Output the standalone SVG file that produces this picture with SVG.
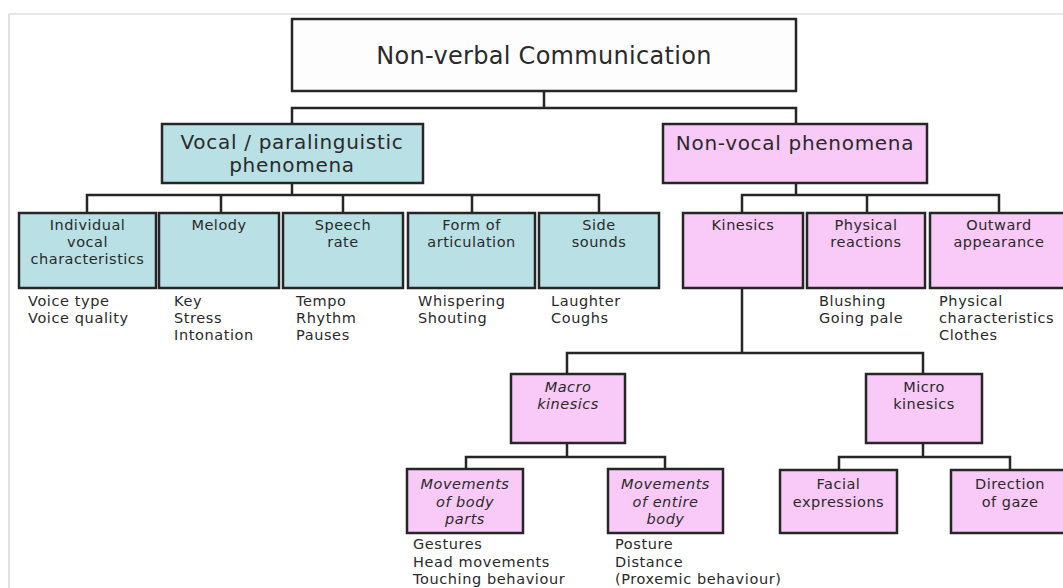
<svg xmlns="http://www.w3.org/2000/svg" width="1063" height="588" viewBox="0 0 1063 588">
<style>
.frame{fill:none;stroke:#cfcfcf;stroke-width:1.2}
.box{stroke:#262626;stroke-width:2.5}
.top{fill:#fdfdfd}
.blue{fill:#b9e0e4}
.pink{fill:#f9c9f7}
.conn{fill:none;stroke:#262626;stroke-width:2.5}
text{font-family:"DejaVu Sans","Liberation Sans",sans-serif;fill:#2a2a2a}
.t{font-size:14.5px;letter-spacing:0.5px;text-anchor:middle}
.l{font-size:14.5px;letter-spacing:0.6px}
.it{font-style:italic}
.h1{font-size:24px;letter-spacing:0.3px;text-anchor:middle}
.h2{font-size:20px;letter-spacing:0.7px;text-anchor:middle}
</style>
<rect width="1063" height="588" fill="#ffffff"/>
<path class="frame" d="M9,588 V14 H1063"/>
<g id="connectors">
<path class="conn" d="M544,91 V108 M292,124 V108 H796 V124"/>
<path class="conn" d="M292,183 V195 M87,213 V195 H599 V213 M221,195 V213 M343,195 V213 M472,195 V213"/>
<path class="conn" d="M796,183 V195 M742,213 V195 H999 V213 M867,195 V213"/>
<path class="conn" d="M742,288 V353 M567,374 V353 H923 V374"/>
<path class="conn" d="M567,443 V457 M466,469 V457 H665 V469"/>
<path class="conn" d="M923,443 V457 M839,470 V457 H1010 V470"/>
</g>
<g id="root"><rect class="box top" x="292" y="19" width="504" height="72"/><text class="h1" x="544" y="64">Non-verbal Communication</text></g>
<g id="vocal"><rect class="box blue" x="162" y="124" width="261" height="59"/><text class="h2" x="292" y="149">Vocal / paralinguistic</text><text class="h2" x="292" y="172">phenomena</text></g>
<g id="nonvocal"><rect class="box pink" x="663" y="124" width="264" height="59"/><text class="h2" x="795" y="150">Non-vocal phenomena</text></g>
<g id="individual"><rect class="box blue" x="19" y="213" width="137" height="75"/><text class="t" x="87.5" y="230">Individual</text><text class="t" x="87.5" y="247">vocal</text><text class="t" x="87.5" y="264">characteristics</text></g>
<g id="melody"><rect class="box blue" x="159" y="213" width="120" height="75"/><text class="t" x="219" y="230">Melody</text></g>
<g id="speech"><rect class="box blue" x="283" y="213" width="120" height="75"/><text class="t" x="343" y="230">Speech</text><text class="t" x="343" y="247">rate</text></g>
<g id="form"><rect class="box blue" x="408" y="213" width="127" height="75"/><text class="t" x="471.5" y="230">Form of</text><text class="t" x="471.5" y="247">articulation</text></g>
<g id="side"><rect class="box blue" x="539" y="213" width="120" height="75"/><text class="t" x="599" y="230">Side</text><text class="t" x="599" y="247">sounds</text></g>
<g id="kinesics"><rect class="box pink" x="683" y="213" width="120" height="75"/><text class="t" x="743" y="230">Kinesics</text></g>
<g id="physical"><rect class="box pink" x="807" y="213" width="118" height="75"/><text class="t" x="866" y="230">Physical</text><text class="t" x="866" y="247">reactions</text></g>
<g id="outward"><rect class="box pink" x="930" y="213" width="138" height="75"/><text class="t" x="999" y="230">Outward</text><text class="t" x="999" y="247">appearance</text></g>
<g id="lists1">
<text class="l" x="28" y="306">Voice type</text><text class="l" x="28" y="323">Voice quality</text>
<text class="l" x="174" y="306">Key</text><text class="l" x="174" y="323">Stress</text><text class="l" x="174" y="340">Intonation</text>
<text class="l" x="296" y="306">Tempo</text><text class="l" x="296" y="323">Rhythm</text><text class="l" x="296" y="340">Pauses</text>
<text class="l" x="418" y="306">Whispering</text><text class="l" x="418" y="323">Shouting</text>
<text class="l" x="551" y="306">Laughter</text><text class="l" x="551" y="323">Coughs</text>
<text class="l" x="819" y="306">Blushing</text><text class="l" x="819" y="323">Going pale</text>
<text class="l" x="939" y="306">Physical</text><text class="l" x="939" y="323">characteristics</text><text class="l" x="939" y="340">Clothes</text>
</g>
<g id="macro"><rect class="box pink" x="511" y="374" width="114" height="69"/><text class="t it" x="568" y="392">Macro</text><text class="t it" x="568" y="409">kinesics</text></g>
<g id="micro"><rect class="box pink" x="866" y="374" width="116" height="69"/><text class="t" x="924" y="392">Micro</text><text class="t" x="924" y="409">kinesics</text></g>
<g id="bodyparts"><rect class="box pink" x="407" y="469" width="116" height="64"/><text class="t it" x="465" y="489">Movements</text><text class="t it" x="465" y="507">of body</text><text class="t it" x="465" y="524">parts</text></g>
<g id="entirebody"><rect class="box pink" x="608" y="469" width="115" height="64"/><text class="t it" x="665.5" y="489">Movements</text><text class="t it" x="665.5" y="507">of entire</text><text class="t it" x="665.5" y="524">body</text></g>
<g id="facial"><rect class="box pink" x="780" y="470" width="117" height="63"/><text class="t" x="838.5" y="489">Facial</text><text class="t" x="838.5" y="507">expressions</text></g>
<g id="gaze"><rect class="box pink" x="951" y="470" width="118" height="63"/><text class="t" x="1010" y="489">Direction</text><text class="t" x="1010" y="507">of gaze</text></g>
<g id="lists2">
<text class="l" x="413" y="549">Gestures</text><text class="l" x="413" y="567">Head movements</text><text class="l" x="413" y="584">Touching behaviour</text>
<text class="l" x="615" y="549">Posture</text><text class="l" x="615" y="567">Distance</text><text class="l" x="615" y="584">(Proxemic behaviour)</text>
</g>
</svg>
